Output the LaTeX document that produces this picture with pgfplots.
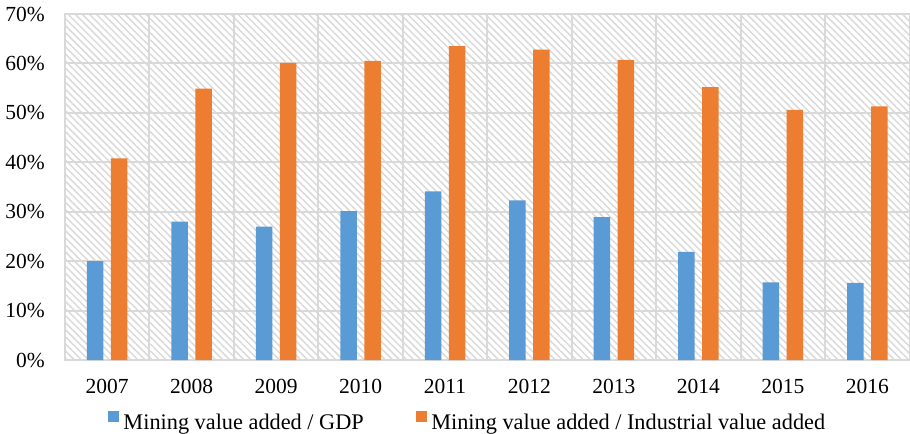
\documentclass[border=0pt]{standalone}
\usepackage{fontspec}
\setmainfont{Liberation Serif}
\usepackage{pgfplots}
\pgfplotsset{compat=1.18}
\usetikzlibrary{patterns.meta}

\definecolor{gdpblue}{RGB}{91,155,213}
\definecolor{indorange}{RGB}{237,125,49}
\definecolor{gridgray}{RGB}{217,217,217}
\definecolor{hatchgray}{RGB}{218,218,218}

\newcommand{\tickfont}{\fontsize{21.5bp}{26bp}\selectfont}
\newcommand{\legendfont}{\fontsize{22.3bp}{26bp}\selectfont}

% square legend marker sitting on the text baseline
\pgfplotsset{
  sqlegend/.style={
    legend image code/.code={\fill[##1] (0bp,0bp) rectangle (11.5bp,11.5bp);}
  }
}

\begin{document}
\begin{tikzpicture}
\begin{axis}[
  at={(0,0)}, anchor=south west,
  scale only axis, width=844.5bp, height=346bp,
  ybar, bar width=16.5bp,
  xmin=-0.5, xmax=9.5, ymin=0, ymax=70,
  xtick={0,...,9},
  xticklabels={2007,2008,2009,2010,2011,2012,2013,2014,2015,2016},
  minor xtick={-0.5,0.5,...,9.5},
  ytick={0,10,...,70},
  yticklabels={0\%,10\%,20\%,30\%,40\%,50\%,60\%,70\%},
  xminorgrids, ymajorgrids,
  major grid style={gridgray, line width=2bp},
  minor grid style={gridgray, line width=2bp},
  axis line style={gridgray, line width=2bp},
  major tick length=0pt, minor tick length=0pt,
  axis background/.style={pattern={Lines[angle=-45,distance=5bp,line width=1.5bp]}, pattern color=hatchgray},
  tick label style={font=\tickfont, text=black},
  xticklabel style={anchor=north, inner sep=0pt, yshift=-19bp},
  yticklabel style={anchor=east, inner sep=0pt, xshift=-20bp},
  legend columns=2,
  legend style={draw=none, fill=none, inner sep=0pt, outer sep=0pt,
    at={(axis description cs:0.0509,-0.1756)}, anchor=west,
    font=\legendfont,
    nodes={inner sep=0pt},
    /tikz/every odd column/.append style={column sep=4bp},
    /tikz/every even column/.append style={column sep=52bp}},
]
\addplot[fill=gdpblue, draw=none, bar shift=-12bp, sqlegend]
  coordinates {(0,20.0) (1,28.0) (2,27.0) (3,30.1) (4,34.1)
               (5,32.3) (6,28.9) (7,21.9) (8,15.7) (9,15.6)};
\addlegendentry{Mining value added / GDP}
\addplot[fill=indorange, draw=none, bar shift=12bp, sqlegend]
  coordinates {(0,40.8) (1,54.9) (2,60.1) (3,60.5) (4,63.5)
               (5,62.8) (6,60.7) (7,55.2) (8,50.6) (9,51.3)};
\addlegendentry{Mining value added / Industrial value added}
\end{axis}
\pgfresetboundingbox
\useasboundingbox (-65bp,-74bp) rectangle (845bp,360bp);
\end{tikzpicture}
\end{document}
